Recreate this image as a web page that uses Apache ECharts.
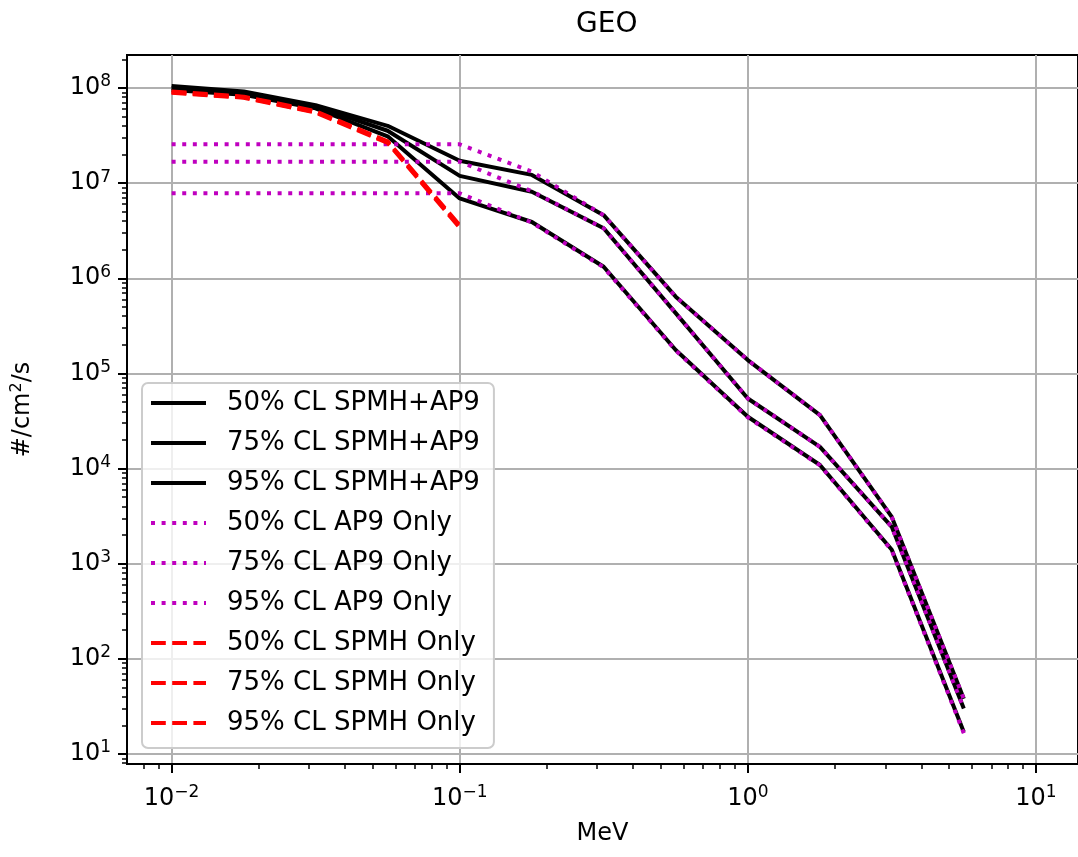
<!DOCTYPE html>
<html>
<head>
<meta charset="utf-8">
<script src="https://cdn.jsdelivr.net/npm/echarts@6/dist/echarts.min.js"></script>
<style>
  html, body { margin: 0; padding: 0; background: #fff; }
  #chart { width: 1078px; height: 857px; }
</style>
</head>
<body>
<div id="chart"></div>
<script>
// energy grid (MeV)
const energy = [0.01, 0.0178, 0.0316, 0.0562, 0.1, 0.178, 0.316, 0.562, 1.0, 1.78, 3.16, 5.62]

// SPMH+AP9 combined
const combo50 = [9.5e7, 8.5e7, 6.1e7, 3.1e7, 6.9e6, 3.9e6, 1.32e6, 1.76e5, 3.5e4, 1.09e4, 1.4e3, 17]
const combo75 = [1.0e8, 8.9e7, 6.4e7, 3.55e7, 1.19e7, 8.1e6, 3.35e6, 4.3e5, 5.45e4, 1.69e4, 2.44e3, 30]
const combo95 = [1.05e8, 9.2e7, 6.6e7, 4.0e7, 1.72e7, 1.22e7, 4.6e6, 6.4e5, 1.38e5, 3.64e4, 3.1e3, 38]

// AP9 only
const ap50 = [7.8e6, 7.8e6, 7.8e6, 7.8e6, 7.8e6, 3.85e6, 1.3e6, 1.74e5, 3.45e4, 1.08e4, 1.38e3, 16.5]
const ap75 = [1.68e7, 1.68e7, 1.68e7, 1.68e7, 1.68e7, 8.2e6, 3.35e6, 4.3e5, 5.45e4, 1.69e4, 2.44e3, 30]
const ap95 = [2.56e7, 2.56e7, 2.56e7, 2.56e7, 2.56e7, 1.32e7, 4.6e6, 6.4e5, 1.38e5, 3.64e4, 3.1e3, 38]

// SPMH only (up to 0.1 MeV)
const spmh50 = [8.9e7, 7.9e7, 5.5e7, 2.65e7, 3.4e6]
const spmh75 = [9.0e7, 8.0e7, 5.6e7, 2.7e7, 3.5e6]
const spmh95 = [9.2e7, 8.1e7, 5.7e7, 2.75e7, 3.6e6]

// ticks
const xMajor = [0.01, 0.1, 1, 10]
const yMajor = [10, 1e2, 1e3, 1e4, 1e5, 1e6, 1e7, 1e8]
const xMin = 0.007, xMax = 14
const yMin = 7.85, yMax = 2.22e8

function minors(lo, hi, from, to) {
  const out = []
  for (let d = from; d <= to; d++) {
    for (let k = 2; k <= 9; k++) {
      const v = k * Math.pow(10, d)
      if (v > lo && v < hi) out.push(v)
    }
  }
  return out
}
const xMinor = minors(xMin, xMax, -3, 1)
const yMinor = minors(yMin, yMax, 0, 8)

function pairs(vals) {
  return vals.map((v, i) => [energy[i], v])
}

function powLabel(v) {
  const e = Math.round(Math.log10(v))
  return '{b|10}{s|' + (e < 0 ? '\u2212' + (-e) : e) + '}'
}

const font = 'DejaVu Sans'
const tickRich = {
  b: { fontSize: 24, fontFamily: font, color: '#000' },
  s: { fontSize: 17, fontFamily: font, color: '#000', padding: [0, 0, 12, 0] }
}

const chart = echarts.init(document.getElementById('chart'))

function line(name, vals, color, type) {
  return {
    name: name,
    type: 'line',
    data: pairs(vals),
    symbol: 'none',
    xAxisIndex: 0,
    yAxisIndex: 0,
    lineStyle: { color: color, width: 4, type: type, cap: 'butt' },
    itemStyle: { color: color },
    emphasis: { disabled: true }
  }
}

const black = '#000000', magenta = '#bf00bf', red = '#ff0000'
const dotted = [4, 6.6]
const dashed = [14.8, 6.4]

chart.setOption({
  animation: false,
  title: {
    text: 'GEO',
    left: 571,
    top: 6,
    textStyle: { fontFamily: font, fontSize: 28, fontWeight: 'normal', color: '#000' }
  },
  grid: {
    left: 127, right: -3, top: 55, bottom: 93,
    show: true, borderColor: '#000', borderWidth: 2
  },
  legend: {
    orient: 'vertical',
    left: 142,
    top: 383,
    itemWidth: 55,
    itemHeight: 14,
    itemGap: 10,
    padding: [5, 14, 10, 7],
    backgroundColor: 'rgba(255,255,255,0.8)',
    borderColor: '#cccccc',
    borderWidth: 2,
    borderRadius: 6,
    itemStyle: { opacity: 0 },
    lineStyle: { width: 4 },
    textStyle: { fontFamily: font, fontSize: 26, color: '#000', lineHeight: 30, padding: [0, 0, 0, 16] },
    data: ['50% CL SPMH+AP9', '75% CL SPMH+AP9', '95% CL SPMH+AP9',
      '50% CL AP9 Only', '75% CL AP9 Only', '95% CL AP9 Only',
      '50% CL SPMH Only', '75% CL SPMH Only', '95% CL SPMH Only']
  },
  xAxis: [{
    type: 'log',
    min: xMin,
    max: xMax,
    name: 'MeV',
    nameLocation: 'middle',
    nameGap: 58,
    nameTextStyle: { fontFamily: font, fontSize: 24, color: '#000' },
    axisLine: { lineStyle: { color: '#000', width: 2 } },
    axisTick: { length: 9, lineStyle: { color: '#000', width: 2 }, customValues: xMajor },
    axisLabel: { margin: 20, formatter: powLabel, rich: tickRich, customValues: xMajor },
    splitLine: { show: true, lineStyle: { color: '#b0b0b0', width: 2 } }
  }, {
    type: 'log',
    min: xMin,
    max: xMax,
    position: 'bottom',
    axisLine: { show: false },
    axisTick: { length: 5, lineStyle: { color: '#000', width: 1.5 }, customValues: xMinor },
    axisLabel: { show: false },
    splitLine: { show: false }
  }],
  yAxis: [{
    type: 'log',
    min: yMin,
    max: yMax,
    name: '#/cm{sup|2}/s',
    nameLocation: 'middle',
    nameGap: 90,
    nameRotate: 90,
    nameTextStyle: {
      fontFamily: font, fontSize: 24, color: '#000',
      rich: { sup: { fontFamily: font, fontSize: 16, color: '#000', padding: [0, 0, 12, 0] } }
    },
    axisLine: { show: true, lineStyle: { color: '#000', width: 2 } },
    axisTick: { length: 9, lineStyle: { color: '#000', width: 2 }, customValues: yMajor },
    axisLabel: { margin: 16, formatter: powLabel, rich: tickRich, customValues: yMajor },
    splitLine: { show: true, lineStyle: { color: '#b0b0b0', width: 2 } }
  }, {
    type: 'log',
    min: yMin,
    max: yMax,
    position: 'left',
    axisLine: { show: false },
    axisTick: { show: true, length: 5, lineStyle: { color: '#000', width: 1.5 }, customValues: yMinor },
    axisLabel: { show: false },
    splitLine: { show: false }
  }],
  series: [
    line('50% CL SPMH+AP9', combo50, black, 'solid'),
    line('75% CL SPMH+AP9', combo75, black, 'solid'),
    line('95% CL SPMH+AP9', combo95, black, 'solid'),
    line('50% CL AP9 Only', ap50, magenta, dotted),
    line('75% CL AP9 Only', ap75, magenta, dotted),
    line('95% CL AP9 Only', ap95, magenta, dotted),
    line('50% CL SPMH Only', spmh50, red, dashed),
    line('75% CL SPMH Only', spmh75, red, dashed),
    line('95% CL SPMH Only', spmh95, red, dashed)
  ]
})
</script>
</body>
</html>
